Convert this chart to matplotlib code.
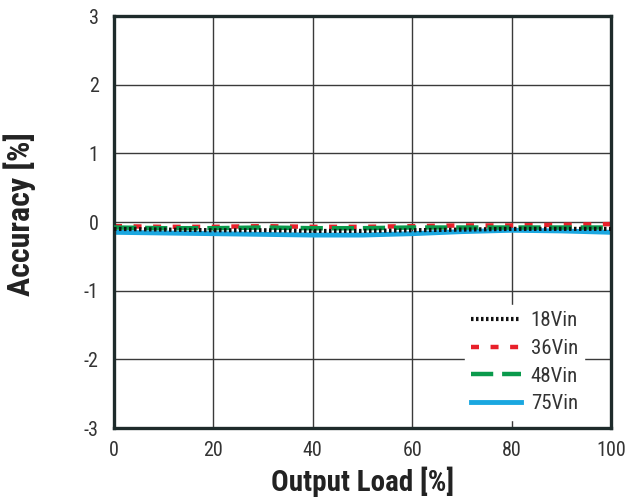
import matplotlib
matplotlib.use("Agg")
import matplotlib.pyplot as plt

plt.rcParams['font.family'] = ['Roboto Condensed', 'DejaVu Sans']
plt.rcParams['axes.unicode_minus'] = False

load = [0, 10, 20, 30, 40, 50, 60, 70, 80, 90, 100]
v18 = [-0.10, -0.11, -0.12, -0.12, -0.13, -0.13, -0.12, -0.11, -0.10, -0.10, -0.10]
v36 = [-0.06, -0.07, -0.07, -0.06, -0.07, -0.07, -0.06, -0.05, -0.05, -0.04, -0.03]
v48 = [-0.08, -0.09, -0.09, -0.08, -0.09, -0.09, -0.08, -0.08, -0.08, -0.08, -0.08]
v75 = [-0.15, -0.16, -0.17, -0.18, -0.19, -0.19, -0.17, -0.14, -0.12, -0.13, -0.15]
series_labels = ["18Vin", "36Vin", "48Vin", "75Vin"]
xticks = [0, 20, 40, 60, 80, 100]
yticks = [-3, -2, -1, 0, 1, 2, 3]

fig = plt.figure(figsize=(6.25, 5.01), dpi=100)
ax = fig.add_axes([0.1824, 0.1457, 0.7952, 0.8223])

ax.plot(load, v75, color="#1aa7e0", lw=3.5, label=series_labels[3], zorder=2)
ax.plot(load, v48, color="#0a9a4c", lw=3.2, ls=(0, (5, 2)), label=series_labels[2], zorder=3)
ax.plot(load, v36, color="#e8202a", lw=3.2, ls=(0, (1.8, 2.6)), label=series_labels[1], zorder=2.5)
ax.plot(load, v18, color="#111111", lw=3.0, ls=(0, (0.6, 0.6)), label=series_labels[0], zorder=3.5)

ax.set_xlim(0, 100)
ax.set_ylim(-3, 3)
ax.set_xticks(xticks)
ax.set_yticks(yticks)
ax.grid(True, color="#3a3a3a", lw=1.0)
ax.set_axisbelow(True)
for s in ax.spines.values():
    s.set_linewidth(2.4)
    s.set_color("#1e2b2b")
ax.tick_params(length=0, labelsize=14.5, labelcolor="#333333")
ax.tick_params(axis="y", pad=11)
ax.tick_params(axis="x", pad=9)

ax.set_xlabel("Output Load [%]", fontsize=21, fontweight="bold", color="#222222", labelpad=5)
ax.set_ylabel("Accuracy [%]", fontsize=23, fontweight="bold", color="#222222")
ax.yaxis.set_label_coords(-0.157, 0.52)

h, l = ax.get_legend_handles_labels()
order = [3, 2, 1, 0]
leg = ax.legend([h[i] for i in order], [l[i] for i in order], loc="lower right",
                bbox_to_anchor=(0.959, 0.005), frameon=True, fontsize=15, handlelength=2.4,
                labelspacing=0.42, borderaxespad=0.3, handletextpad=0.45, borderpad=0.3)
leg.get_frame().set_edgecolor("white")
leg.get_frame().set_facecolor("white")
leg.get_frame().set_alpha(1.0)
for t in leg.get_texts():
    t.set_color("#333333")

fig.savefig("out.png", dpi=100)
